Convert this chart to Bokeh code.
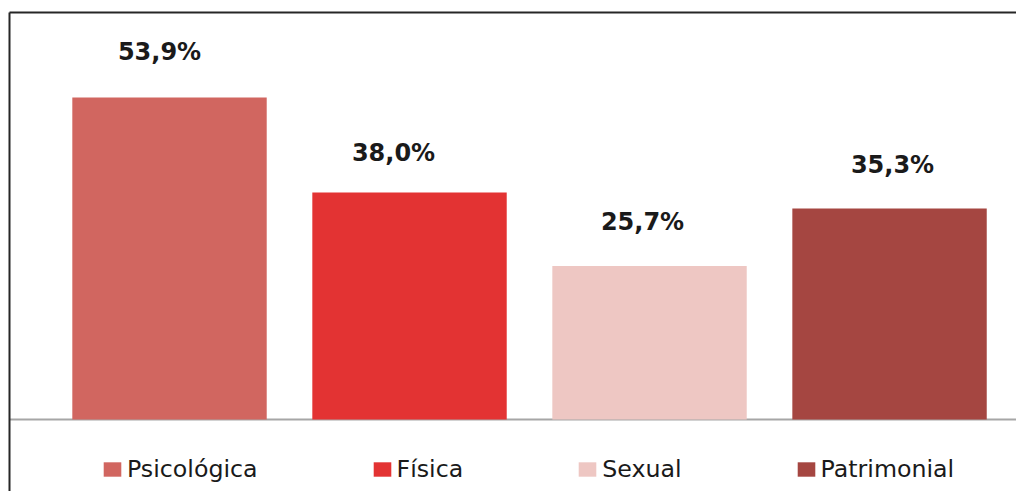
from bokeh.plotting import figure
from bokeh.models import Range1d, Legend, LegendItem, ColumnDataSource
from bokeh.core.properties import value
from bokeh.embed import file_html
from bokeh.resources import INLINE

categories = ["Psicológica", "Física", "Sexual", "Patrimonial"]
values = [53.9, 38.0, 25.7, 35.3]
colors = ["#D16660", "#E33333", "#EEC7C3", "#A54641"]

# label placement tweaks (screen px), layout only
label_dx = [-10, -16, -7, 3]
label_dy = [-45, -39, -44, -44]

xs = list(range(len(categories)))
labels = [f"{v:.1f}%".replace(".", ",") for v in values]
src = ColumnDataSource(dict(x=xs, top=values, color=colors, label=labels, cat=categories,
                            dx=label_dx, dy=label_dy))

x0, x1 = -0.7042, 3.529
p = figure(width=1016, height=491, output_backend="svg", toolbar_location=None,
           x_range=Range1d(x0, x1), y_range=Range1d(-12.05, 70.13),
           min_border=0, min_border_left=0, min_border_right=0,
           min_border_top=0, min_border_bottom=0)
p.axis.visible = False
p.grid.visible = False
p.outline_line_color = None
p.background_fill_color = "white"
p.border_fill_color = "white"

left_edge = -0.6667
top_edge = 68.12

# baseline
p.segment(x0=[left_edge], y0=[0], x1=[x1], y1=[0], line_color="#A6A6A6", line_width=2)

renderers = []
for i, c in enumerate(categories):
    r = p.vbar(x=[xs[i]], top=[values[i]], bottom=0, width=0.81, color=colors[i], line_color=None)
    renderers.append((c, r))

p.text(x="x", y="top", text="label", source=src, text_align="center", text_baseline="middle",
       x_offset="dx", y_offset="dy", text_font=value("DejaVu Sans"), text_font_style="bold",
       text_font_size="24px", text_color="#1A1A1A")

# frame border (top and left)
p.segment(x0=[left_edge, left_edge], y0=[top_edge, top_edge], x1=[left_edge, x1], y1=[-20, top_edge],
          line_color="#262626", line_width=2)

legend = Legend(items=[LegendItem(label=c, renderers=[r]) for c, r in renderers],
                orientation="horizontal", location=(101, 8), padding=0, margin=0,
                spacing=113, glyph_width=22, glyph_height=18, label_standoff=4,
                label_text_font="DejaVu Sans", label_text_font_size="23.7px", label_text_color="#1A1A1A",
                label_height=20, border_line_color=None, background_fill_alpha=0)
p.add_layout(legend)

open("out.html", "w").write(file_html(p, INLINE))
